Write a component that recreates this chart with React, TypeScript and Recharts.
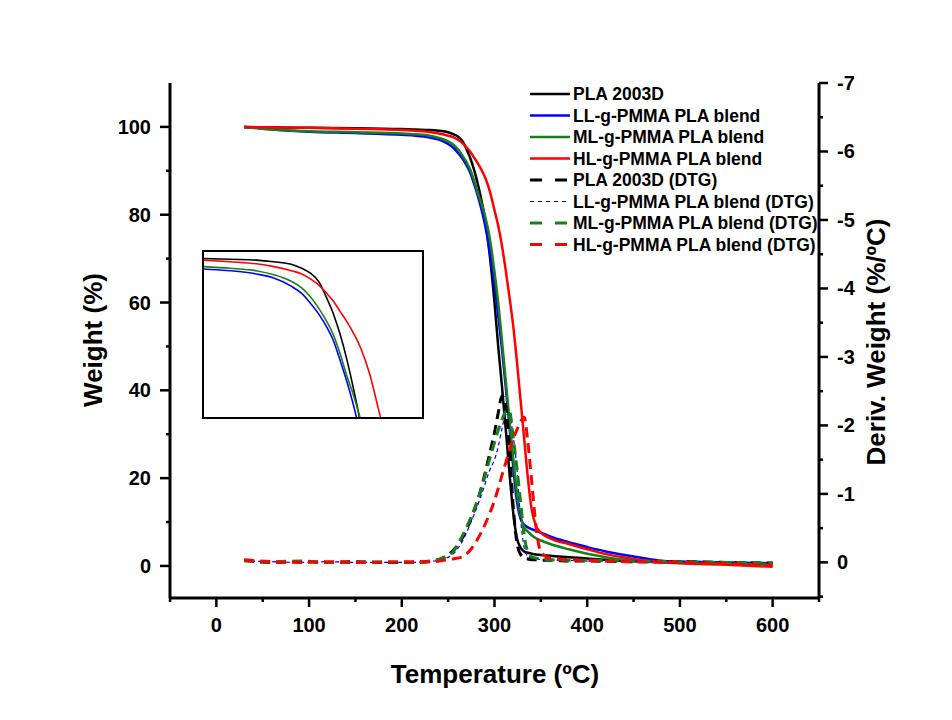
import { LineChart, Line, XAxis, YAxis, Legend } from 'recharts';

const FONT = 'Arial, "Liberation Sans", Helvetica, sans-serif';

// TGA: weight (%) against temperature (ºC)
const tgaTemp = [
  30, 50, 100, 150, 200, 215, 230, 240, 250, 256, 261, 266, 270, 274, 278, 282, 286, 290, 295, 300, 304,
  308, 312, 316, 320, 324, 328, 332, 336, 340, 345, 350, 360, 380, 400, 420, 440, 460, 480, 500, 550, 600,
];
const plaWeight = [
  100, 99.9, 99.8, 99.7, 99.5, 99.4, 99.3, 99.1, 98.8, 98.3, 97.7, 96.6, 94.8, 92.8, 90.2, 87, 83.2, 78.8, 70.5, 60, 50,
  41, 31.5, 21.5, 12.5, 6.5, 4.2, 3.3, 3.0, 2.8, 2.6, 2.5, 2.3, 2.0, 1.7, 1.4, 1.2, 1.0, 0.9, 0.8, 0.7, 0.6,
];
const llWeight = [
  100, 99.6, 98.9, 98.6, 98.2, 98.0, 97.6, 97.1, 96.1, 95.2, 94.0, 92.6, 91.2, 89.5, 87, 84.3, 81.2, 77.5, 71.5, 64, 57,
  49.5, 41, 32, 23, 15, 10.8, 9.4, 8.8, 8.4, 8.0, 7.6, 6.7, 5.4, 4.3, 3.3, 2.5, 1.8, 1.2, 1.0, 0.8, 0.6,
];
const mlWeight = [
  100, 99.6, 99.0, 98.8, 98.5, 98.3, 98.0, 97.5, 96.7, 95.9, 94.8, 93.3, 91.9, 90.2, 87.8, 85, 82.5, 79.5, 74.5, 67, 60,
  51.5, 42.5, 33.5, 25, 17, 11.5, 8.8, 7.8, 7.0, 6.3, 5.8, 5.0, 3.8, 2.8, 2.0, 1.4, 1.0, 0.8, 0.7, 0.6, 0.5,
];
const hlWeight = [
  100, 99.9, 99.8, 99.6, 99.3, 99.1, 98.85, 98.5, 98.0, 97.6, 97.0, 96.2, 95.3, 94.3, 93.0, 91.7, 90.2, 88.4, 85.3, 81, 77.5,
  73, 67.5, 61.5, 55, 47, 38, 29, 20, 13, 9, 7.6, 6.3, 5.0, 3.8, 2.7, 1.9, 1.3, 0.9, 0.6, 0.3, -0.2,
];

// DTG: deriv. weight (%/ºC) against temperature (ºC)
const dtgTemp = [
  30, 60, 90, 120, 150, 180, 210, 235, 245, 255, 265, 275, 285, 295, 300, 304, 308, 312, 316, 320, 324, 328, 332,
  336, 340, 345, 350, 360, 380, 400, 450, 500, 550, 600,
];
const plaDeriv = [
  -0.03, 0.0, -0.01, 0.0, -0.01, 0.0, 0.0, -0.02, -0.07, -0.17, -0.35, -0.65, -1.05, -1.6, -1.9, -2.18, -2.43, -2.3,
  -1.7, -0.85, -0.3, -0.12, -0.07, -0.05, -0.04, -0.04, -0.03, -0.03, -0.02, -0.02, -0.01, -0.01, 0.0, 0.01,
];
const llDeriv = [
  -0.02, -0.01, 0.0, -0.01, 0.0, 0.0, 0.0, -0.02, -0.05, -0.12, -0.3, -0.6, -0.95, -1.35, -1.5, -1.69, -1.95, -2.15,
  -2.18, -1.85, -1.4, -0.65, -0.22, -0.09, -0.06, -0.05, -0.04, -0.03, -0.03, -0.02, -0.02, -0.01, 0.0, 0.01,
];
const mlDeriv = [
  -0.02, -0.01, -0.02, 0.0, 0.0, -0.01, 0.0, -0.03, -0.07, -0.15, -0.38, -0.67, -1.04, -1.52, -1.75, -1.93, -2.08, -2.2,
  -2.22, -1.85, -1.4, -0.9, -0.4, -0.15, -0.08, -0.06, -0.05, -0.04, -0.03, -0.03, -0.02, -0.01, 0.0, 0.01,
];
const hlDeriv = [
  -0.04, -0.01, 0.0, -0.01, 0.0, 0.0, -0.01, -0.01, -0.03, -0.05, -0.08, -0.2, -0.42, -0.72, -0.9, -1.08, -1.27, -1.45,
  -1.63, -1.8, -1.93, -2.05, -2.12, -1.75, -1.2, -0.5, -0.15, -0.06, -0.04, -0.03, -0.01, 0.0, 0.02, 0.04,
];

const tempTicks = [-50, 0, 50, 100, 150, 200, 250, 300, 350, 400, 450, 500, 550, 600, 650];
const weightTicks = [0, 10, 20, 30, 40, 50, 60, 70, 80, 90, 100];
const derivTicks = [-7, -6.5, -6, -5.5, -5, -4.5, -4, -3.5, -3, -2.5, -2, -1.5, -1, -0.5, 0, 0.5];

const sampleNames = ['PLA 2003D', 'LL-g-PMMA PLA blend', 'ML-g-PMMA PLA blend', 'HL-g-PMMA PLA blend'];

const tgaRows = tgaTemp.map((t, i) => ({ t, pla: plaWeight[i], ll: llWeight[i], ml: mlWeight[i], hl: hlWeight[i] }));
const dtgRows = dtgTemp.map((t, i) => ({ t, pla: plaDeriv[i], ll: llDeriv[i], ml: mlDeriv[i], hl: hlDeriv[i] }));

const solidSeries = [
  { key: 'pla', name: sampleNames[0], color: '#000000' },
  { key: 'll', name: sampleNames[1], color: '#0000ff' },
  { key: 'ml', name: sampleNames[2], color: '#1a7f1a' },
  { key: 'hl', name: sampleNames[3], color: '#ff0000' },
];
const dashedSeries = [
  { key: 'pla', name: sampleNames[0] + ' (DTG)', color: '#000000', width: 3, dash: '10 6', legendDash: '12 13' },
  { key: 'll', name: sampleNames[1] + ' (DTG)', color: '#0000ff', width: 1.2, dash: '4 3', legendDash: '4 4' },
  { key: 'ml', name: sampleNames[2] + ' (DTG)', color: '#1a7f1a', width: 3, dash: '10 6', legendDash: '12 13' },
  { key: 'hl', name: sampleNames[3] + ' (DTG)', color: '#ff0000', width: 3, dash: '10 6', legendDash: '12 13' },
];

const AXIS_LINE = { stroke: '#000', strokeWidth: 3 };
const tickText = { fontFamily: FONT, fontSize: 20, fontWeight: 700, fill: '#000' };

function WeightTick(props: any) {
  const { x, y, payload } = props;
  const v = payload.value as number;
  const major = v % 20 === 0;
  const axisX = x + 19;
  return (
    <g>
      <line x1={axisX - (major ? 10 : 4)} x2={axisX} y1={y} y2={y} stroke="#000" strokeWidth={2.5} />
      {major ? (
        <text x={x} y={y} dy={7} textAnchor="end" {...tickText}>
          {v}
        </text>
      ) : null}
    </g>
  );
}

function DerivTick(props: any) {
  const { x, y, payload } = props;
  const v = payload.value as number;
  const major = Number.isInteger(v);
  const axisX = x - 18;
  return (
    <g>
      <line x1={axisX} x2={axisX + (major ? 9 : 4)} y1={y} y2={y} stroke="#000" strokeWidth={2.5} />
      {major ? (
        <text x={x} y={y} dy={7} textAnchor="start" {...tickText}>
          {String(v)}
        </text>
      ) : null}
    </g>
  );
}

function TempTick(props: any) {
  const { x, y, payload } = props;
  const v = payload.value as number;
  const major = v % 100 === 0;
  const axisY = y - 10;
  return (
    <g>
      <line x1={x} x2={x} y1={axisY} y2={axisY + (major ? 9 : 4)} stroke="#000" strokeWidth={2.5} />
      {major ? (
        <text x={x} y={axisY + 34} textAnchor="middle" {...tickText}>
          {v}
        </text>
      ) : null}
    </g>
  );
}

function title(x: number, y: number, text: string, rotate?: number) {
  return () => (
    <text
      x={x}
      y={y}
      transform={rotate ? `rotate(${rotate} ${x} ${y})` : undefined}
      textAnchor="middle"
      dominantBaseline="central"
      fontFamily={FONT}
      fontSize={26}
      fontWeight={700}
      fill="#000"
    >
      {text}
    </text>
  );
}

function LegendBox() {
  const rows = [
    ...solidSeries.map((s) => ({ name: s.name, color: s.color, width: 2.5, dash: undefined as string | undefined })),
    ...dashedSeries.map((s) => ({ name: s.name, color: s.color, width: s.width, dash: s.legendDash })),
  ];
  return (
    <svg width={310} height={180}>
      {rows.map((r, i) => {
        const cy = 12 + i * 21.5;
        return (
          <g key={r.name}>
            <line x1={10} x2={50} y1={cy} y2={cy} stroke={r.color} strokeWidth={r.width} strokeDasharray={r.dash} />
            <text x={53} y={cy} dy={6} fontFamily={FONT} fontSize={17.5} fontWeight={700} fill="#000">
              {r.name}
            </text>
          </g>
        );
      })}
    </svg>
  );
}

export default function App() {
  return (
    <div style={{ position: 'relative', width: 944, height: 700, background: '#fff' }}>
      <LineChart width={944} height={700} margin={{ top: 75, right: 53, bottom: 50, left: 0 }}>
        <XAxis
          xAxisId="top"
          orientation="top"
          type="number"
          domain={[-50, 650]}
          allowDataOverflow
          height={0}
          tick={false}
          tickLine={false}
          axisLine={AXIS_LINE}
        />
        <XAxis
          xAxisId="main"
          type="number"
          dataKey="t"
          domain={[-50, 650]}
          allowDataOverflow
          ticks={tempTicks}
          interval={0}
          height={60}
          tickSize={10}
          tickMargin={0}
          tickLine={false}
          axisLine={AXIS_LINE}
          tick={TempTick}
          label={title(487, 666, 'Temperature (ºC)')}
        />
        <YAxis
          yAxisId="w"
          type="number"
          domain={[-7.3, 110]}
          allowDataOverflow
          ticks={weightTicks}
          interval={0}
          width={162}
          tickSize={10}
          tickMargin={9}
          tickLine={false}
          axisLine={AXIS_LINE}
          tick={WeightTick}
          label={title(85, 332, 'Weight (%)', -90)}
        />
        <YAxis
          yAxisId="d"
          orientation="right"
          type="number"
          reversed
          domain={[-7, 0.52]}
          allowDataOverflow
          ticks={derivTicks}
          interval={0}
          width={80}
          tickSize={10}
          tickMargin={8}
          tickLine={false}
          axisLine={AXIS_LINE}
          tick={DerivTick}
          label={title(868, 334, 'Deriv. Weight (%/ºC)', -90)}
        />
        {solidSeries.map((s) => (
          <Line
            key={'w-' + s.key}
            data={tgaRows}
            dataKey={s.key}
            name={s.name}
            xAxisId="main"
            yAxisId="w"
            type="monotone"
            stroke={s.color}
            strokeWidth={2.5}
            dot={false}
            activeDot={false}
            isAnimationActive={false}
          />
        ))}
        {dashedSeries.map((s) => (
          <Line
            key={'d-' + s.key}
            data={dtgRows}
            dataKey={s.key}
            name={s.name}
            xAxisId="main"
            yAxisId="d"
            type="monotone"
            stroke={s.color}
            strokeWidth={s.width}
            strokeDasharray={s.dash}
            dot={false}
            activeDot={false}
            isAnimationActive={false}
          />
        ))}
        <Legend
          layout="horizontal"
          verticalAlign="middle"
          align="center"
          wrapperStyle={{ left: 512, top: 74, width: 310, height: 180 }}
          content={() => <LegendBox />}
        />
      </LineChart>

      {/* inset: zoom of the onset of weight loss */}
      <div
        style={{
          position: 'absolute',
          left: 194,
          top: 242,
          width: 222,
          height: 169,
          border: '2px solid #000',
          boxSizing: 'border-box',
          background: '#fff',
        }}
      >
        <LineChart width={218} height={165} data={tgaRows} margin={{ top: 0, right: 0, bottom: 0, left: 0 }}>
          <XAxis type="number" dataKey="t" domain={[200, 325]} allowDataOverflow hide />
          <YAxis type="number" domain={[80, 100.3]} allowDataOverflow hide />
          {solidSeries.map((s) => (
            <Line
              key={'inset-' + s.key}
              dataKey={s.key}
              type="monotone"
              stroke={s.color}
              strokeWidth={1.6}
              dot={false}
              activeDot={false}
              isAnimationActive={false}
            />
          ))}
        </LineChart>
      </div>
    </div>
  );
}
